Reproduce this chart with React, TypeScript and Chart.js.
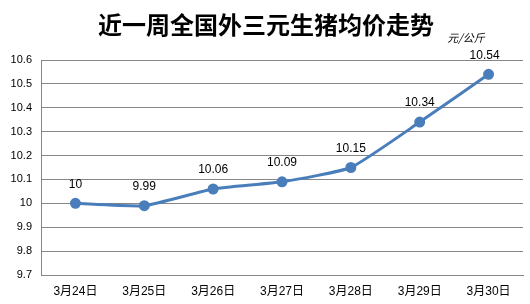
import React, { useEffect, useRef } from "react";
import { Chart, registerables } from "chart.js";

Chart.register(...registerables);

const categories = ["3月24日", "3月25日", "3月26日", "3月27日", "3月28日", "3月29日", "3月30日"];
const prices = [10, 9.99, 10.06, 10.09, 10.15, 10.34, 10.54];
const title = "近一周全国外三元生猪均价走势";
const unit = "元/公斤";
const yMin = 9.7;
const yMax = 10.6;
const yStep = 0.1;

const FONT = "'Liberation Sans', 'Noto Sans CJK SC', sans-serif";

const textPlugin = {
  id: "textPlugin",
  afterDraw(chart: any) {
    const ctx = chart.ctx;
    ctx.save();
    // title
    ctx.fillStyle = "#000";
    ctx.font = "bold 24px 'Noto Sans CJK SC', sans-serif";
    ctx.textAlign = "center";
    ctx.textBaseline = "middle";
    ctx.fillText(title, 266, 25);
    // unit
    ctx.font = "italic 11px 'Noto Sans CJK SC', sans-serif";
    ctx.textAlign = "center";
    ctx.fillText(unit, 466, 38);
    // data labels
    const meta = chart.getDatasetMeta(0);
    ctx.font = "12px " + FONT;
    ctx.textBaseline = "middle";
    meta.data.forEach((pt: any, i: number) => {
      const v = chart.data.datasets[0].data[i];
      ctx.fillText(String(v), pt.x - (i === meta.data.length - 1 ? 4 : 0), pt.y - 19);
    });
    ctx.restore();
  },
};

export default function App() {
  const ref = useRef<HTMLCanvasElement>(null);
  useEffect(() => {
    document.body.style.margin = "0";
    const chart = new Chart(ref.current!, {
      type: "line",
      data: {
        labels: categories,
        datasets: [
          {
            data: prices,
            borderColor: "#4A7EBB",
            backgroundColor: "#4A7EBB",
            borderWidth: 3,
            pointRadius: 4,
            pointHoverRadius: 4,
            tension: 0.15,
          },
        ],
      },
      options: {
        animation: false,
        responsive: false,
        layout: { padding: { top: 60, right: 6, left: 0, bottom: 0 } },
        plugins: { legend: { display: false }, tooltip: { enabled: false }, title: { display: false } },
        scales: {
          x: {
            offset: true,
            grid: { display: false, drawTicks: false, offset: true },
            border: { display: true, color: "#868686", width: 1 },
            ticks: { color: "#000", font: { size: 12, family: FONT }, padding: 9, maxRotation: 0 },
            afterFit: (s: any) => { s.height = 29; },
          },
          y: {
            min: yMin,
            max: yMax,
            grid: { color: "#868686", drawTicks: false },
            border: { display: true, color: "#868686", width: 1 },
            ticks: {
              stepSize: yStep,
              color: "#000",
              font: { size: 11, family: FONT },
              padding: 9,
              callback: (v: any) => String(Number(Number(v).toFixed(1))),
            },
            afterFit: (s: any) => { s.width = 41; },
          },
        },
      },
      plugins: [textPlugin],
    });
    return () => chart.destroy();
  }, []);
  return <canvas ref={ref} width={530} height={304} style={{ display: "block" }} />;
}
